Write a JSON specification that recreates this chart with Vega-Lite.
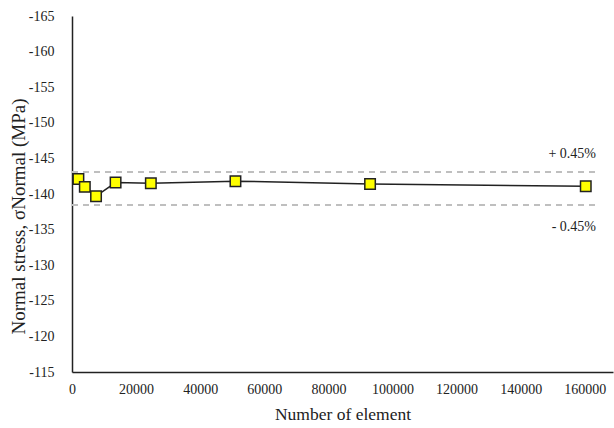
{
  "$schema": "https://vega.github.io/schema/vega-lite/v6.json",
  "autosize": "none",
  "width": 541,
  "height": 356,
  "padding": {"left": 72, "top": 16, "right": 1, "bottom": 56},
  "background": "white",
  "config": {
    "view": {"stroke": null},
    "font": "Liberation Serif",
    "axis": {"labelOverlap": false},
    "axisY": {"labelOverlap": false}
  },
  "datasets": {
    "points": [
      {"elements": 2000, "stress": -142.1},
      {"elements": 4000, "stress": -141.0},
      {"elements": 7500, "stress": -139.7},
      {"elements": 13600, "stress": -141.6},
      {"elements": 24600, "stress": -141.5},
      {"elements": 51000, "stress": -141.8},
      {"elements": 93000, "stress": -141.4},
      {"elements": 160300, "stress": -141.1}
    ],
    "bands": [
      {"start": 0, "end": 163500, "stress": -143.1, "label": "+ 0.45%", "labelY": -145.6},
      {"start": 0, "end": 163500, "stress": -138.45, "label": "- 0.45%", "labelY": -135.4}
    ]
  },
  "encoding": {
    "x": {
      "type": "quantitative",
      "scale": {"domain": [0, 168800], "nice": false, "zero": false},
      "axis": {
        "values": [0, 20000, 40000, 60000, 80000, 100000, 120000, 140000, 160000],
        "format": "d",
        "grid": false,
        "ticks": false,
        "domainColor": "#222",
        "domainWidth": 1.5,
        "labelFont": "Liberation Serif",
        "labelFontSize": 14,
        "labelColor": "#222",
        "labelPadding": 10,
        "labelFlush": false,
        "labelOverlap": false,
        "title": "Number of element",
        "titleFont": "Liberation Serif",
        "titleFontSize": 17.5,
        "titleFontWeight": "normal",
        "titleColor": "#222",
        "titlePadding": 9
      }
    },
    "y": {
      "type": "quantitative",
      "scale": {"domain": [-165, -115], "reverse": true, "nice": false, "zero": false},
      "axis": {
        "values": [-165, -160, -155, -150, -145, -140, -135, -130, -125, -120, -115],
        "labelExpr": "'-' + abs(datum.value)",
        "grid": false,
        "ticks": false,
        "domainColor": "#222",
        "domainWidth": 1.5,
        "labelFont": "Liberation Serif",
        "labelFontSize": 14,
        "labelColor": "#222",
        "labelPadding": 18,
        "labelFlush": false,
        "labelOverlap": false,
        "title": "Normal stress, σNormal (MPa)",
        "titleFont": "Liberation Serif",
        "titleFontSize": 19,
        "titleFontWeight": "normal",
        "titleColor": "#222",
        "titleX": -54,
        "titleY": 200,
        "titleBaseline": "middle"
      }
    }
  },
  "layer": [
    {
      "data": {"name": "bands"},
      "mark": {"type": "rule", "color": "#bfbfbf", "strokeWidth": 2, "strokeDash": [6, 5]},
      "encoding": {
        "x": {"field": "start"},
        "x2": {"field": "end"},
        "y": {"field": "stress"}
      }
    },
    {
      "data": {"name": "bands"},
      "mark": {"type": "text", "align": "right", "baseline": "middle", "fontSize": 14, "color": "#222", "font": "Liberation Serif"},
      "encoding": {
        "x": {"field": "end"},
        "y": {"field": "labelY"},
        "text": {"field": "label"}
      }
    },
    {
      "data": {"name": "points"},
      "mark": {"type": "line", "color": "#222222", "strokeWidth": 1.5},
      "encoding": {
        "x": {"field": "elements"},
        "y": {"field": "stress"}
      }
    },
    {
      "data": {"name": "points"},
      "mark": {"type": "square", "filled": true, "color": "#ffff00", "stroke": "#222222", "strokeWidth": 1.5, "size": 110, "opacity": 1},
      "encoding": {
        "x": {"field": "elements"},
        "y": {"field": "stress"}
      }
    }
  ]
}
